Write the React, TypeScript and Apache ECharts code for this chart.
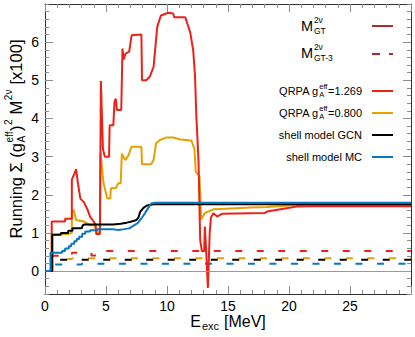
import React, { useEffect, useRef } from 'react';
import * as echarts from 'echarts';

const FONT = '"Liberation Sans", Arial, Helvetica, sans-serif';

// ---- data (running sums, x100) ----
const qrpa1269E = [0, 0.55, 0.55, 1.65, 1.65, 2.2, 2.2, 2.4, 2.55, 2.7, 2.9, 3.2, 3.5, 3.7, 4.0, 4.15, 4.2, 4.5, 4.58, 4.75, 4.9, 5.25, 5.3, 5.6, 5.7, 5.8, 5.9, 6.25, 6.35, 6.45, 6.6, 6.9, 7.1, 7.9, 7.95, 8.3, 8.6, 8.9, 9.2, 9.5, 10.1, 10.5, 10.6, 11.5, 11.9, 12.15, 12.3, 12.4, 12.58, 12.72, 12.86, 13.05, 13.1, 13.2, 13.35, 13.5, 13.6, 13.8, 14.1, 14.5, 18.0, 18.2, 19.8, 20.6, 22, 30];
const qrpa1269V = [0, 0, 1.3, 1.3, 1.37, 1.37, 2.4, 2.55, 2.67, 2.3, 1.9, 1.8, 1.6, 1.42, 1.3, 1.2, 0.97, 0.97, 4.98, 3.2, 3.0, 3.0, 3.82, 3.82, 4.45, 4.52, 4.22, 4.22, 5.83, 5.55, 5.7, 5.75, 6.18, 6.2, 5.0, 5.0, 5.1, 5.35, 6.4, 6.7, 6.77, 6.75, 6.65, 6.65, 6.26, 5.78, 5.09, 4.1, 2.91, 0.82, 0.52, 0.52, 1.17, 0.6, -0.44, 1.0, 1.4, 1.52, 1.43, 1.5, 1.52, 1.56, 1.65, 1.69, 1.7, 1.7];

const qrpa0800E = [0, 0.55, 0.55, 1.9, 2.2, 2.2, 2.35, 2.55, 3.2, 3.7, 4.1, 4.2, 4.5, 4.55, 4.8, 5.1, 5.35, 5.4, 5.8, 6.0, 6.2, 6.3, 6.5, 6.6, 6.85, 7.1, 7.9, 7.95, 8.7, 8.9, 9.1, 9.4, 9.9, 10.5, 11.1, 12.0, 12.25, 12.36, 12.66, 12.8, 13.1, 13.8, 14.4, 16.8, 18.2, 20.1, 30];
const qrpa0800V = [0, 0, 0.95, 0.97, 1.0, 1.56, 1.6, 1.34, 1.3, 1.2, 1.21, 1.02, 1.02, 3.1, 2.3, 1.9, 1.9, 2.17, 2.17, 2.3, 2.3, 3.08, 2.95, 2.91, 3.04, 3.26, 3.26, 2.8, 2.8, 2.91, 3.35, 3.43, 3.5, 3.5, 3.45, 3.42, 3.2, 2.6, 2.5, 1.35, 1.52, 1.62, 1.63, 1.67, 1.68, 1.72, 1.72];

const gcnE = [0, 0.6, 0.6, 1.3, 1.3, 1.9, 1.9, 2.25, 2.25, 3.0, 3.1, 3.2, 5.6, 6.2, 6.7, 7.1, 7.5, 7.65, 7.8, 8.05, 8.35, 8.9, 30];
const gcnV = [0, 0, 0.95, 0.95, 1.0, 1.0, 1.06, 1.06, 1.12, 1.12, 1.2, 1.22, 1.22, 1.24, 1.27, 1.3, 1.34, 1.4, 1.55, 1.65, 1.72, 1.75, 1.75];

const mcE = [0, 0.45, 0.45, 1.4, 1.4, 1.65, 1.65, 1.95, 1.95, 2.15, 2.15, 2.4, 2.4, 2.6, 2.6, 2.8, 2.8, 3.05, 3.05, 3.3, 3.3, 3.7, 3.7, 4.3, 4.3, 5.5, 6.0, 6.5, 6.9, 7.1, 7.3, 7.6, 7.9, 8.2, 8.45, 8.7, 9.0, 30];
const mcV = [0, 0, 0.48, 0.48, 0.53, 0.53, 0.59, 0.59, 0.65, 0.65, 0.72, 0.72, 0.78, 0.78, 0.84, 0.84, 0.9, 0.9, 0.98, 0.98, 1.04, 1.04, 1.07, 1.07, 1.1, 1.1, 1.08, 1.1, 1.12, 1.16, 1.2, 1.26, 1.38, 1.52, 1.65, 1.77, 1.79, 1.79];

// M_GT-3 running sums (dashed)
const qrpa1269DashE = [0.55, 2.2, 2.2, 3.8, 3.8, 4.55, 4.58, 30];
const qrpa1269DashV = [0.4, 0.4, 0.48, 0.48, 0.41, 0.41, 0.53, 0.53];
const qrpa0800DashE = [0.55, 2.2, 2.2, 30];
const qrpa0800DashV = [0.32, 0.32, 0.34, 0.34];
const gcnDashE = [0.55, 30];
const gcnDashV = [0.3, 0.3];
const mcDashE = [0.55, 3.0, 3.0, 30];
const mcDashV = [0.17, 0.17, 0.19, 0.19];

const xTickLabels = [0, 5, 10, 15, 20, 25];
const yTickValues = [0, 1, 2, 3, 4, 5, 6];

const C_RED = '#ec2218';
const C_ORANGE = '#e6a000';
const C_BLACK = '#000000';
const C_BLUE = '#0a76be';
const C_DARKRED = '#b3282a';

let measureCtx: CanvasRenderingContext2D | null = null;
function textWidth(t: string, fs: number): number {
  if (!measureCtx) measureCtx = document.createElement('canvas').getContext('2d');
  if (!measureCtx) return t.length * fs * 0.55;
  measureCtx.font = `${fs}px ${FONT}`;
  return measureCtx.measureText(t).width;
}

type Piece = { t?: string; sup?: string; sub?: string; fs: number; dy?: number; supDy?: number; subDy?: number; gap?: number };

function txt(t: string, x: number, y: number, fs: number, color: string) {
  return {
    type: 'text',
    x,
    y,
    silent: true,
    style: { text: t, fill: color, font: `${fs}px ${FONT}`, textAlign: 'left', textVerticalAlign: 'middle' },
  };
}

function buildPieces(pieces: Piece[], color: string) {
  let x = 0;
  const children: any[] = [];
  for (const p of pieces) {
    x += p.gap || 0;
    if (p.sup !== undefined || p.sub !== undefined) {
      const sp = p.sup || '';
      const sb = p.sub || '';
      if (sp) children.push(txt(sp, x, p.supDy || 0, p.fs, color));
      if (sb) children.push(txt(sb, x, p.subDy || 0, p.fs, color));
      x += Math.max(textWidth(sp, p.fs), textWidth(sb, p.fs));
    } else {
      const t = p.t || '';
      children.push(txt(t, x, p.dy || 0, p.fs, color));
      x += textWidth(t, p.fs);
    }
  }
  return { children, width: x };
}

function pairs(E: number[], V: number[]) {
  return E.map((e, i) => [e, V[i]]);
}

export default function App() {
  const ref = useRef<HTMLDivElement>(null);
  useEffect(() => {
    if (!ref.current) return;
    const chart = echarts.init(ref.current, undefined, { renderer: 'svg' });

    const grid = { left: 45, right: 4, top: 4, bottom: 43 };
    const tickColor = '#8c8c8c';
    const axisColor = '#333333';

    const xBase = (pos: 'bottom' | 'top', labels: boolean) => ({
      type: 'value',
      position: pos,
      min: 0,
      max: 30,
      interval: 5,
      axisLine: { show: true, onZero: false, lineStyle: { color: axisColor, width: 1 } },
      axisTick: { show: true, inside: true, length: 8, lineStyle: { color: tickColor, width: 1 } },
      minorTick: { show: true, splitNumber: 5, length: 4, lineStyle: { color: tickColor, width: 1 } },
      splitLine: { show: false },
      axisLabel: labels
        ? {
            show: true,
            customValues: xTickLabels,
            fontSize: 14,
            fontFamily: FONT,
            color: '#000',
            margin: 5,
            formatter: (v: number) => (v < 29 ? String(v) : ''),
          }
        : { show: false },
    });

    const yMajor = (pos: 'left' | 'right', labels: boolean) => ({
      type: 'value',
      position: pos,
      min: -0.6,
      max: 7,
      interval: 0.2,
      axisLine: { show: true, onZero: false, lineStyle: { color: axisColor, width: 1 } },
      axisTick: { show: true, inside: true, length: 8, customValues: yTickValues, lineStyle: { color: tickColor, width: 1 } },
      splitLine: { show: false },
      axisLabel: labels
        ? {
            show: true,
            customValues: yTickValues,
            fontSize: 14,
            fontFamily: FONT,
            color: '#000',
            margin: 6,
            formatter: (v: number) => String(Math.round(v)),
          }
        : { show: false },
    });
    const yMinor = (pos: 'left' | 'right') => ({
      type: 'value',
      position: pos,
      min: -0.6,
      max: 7,
      interval: 0.2,
      axisLine: { show: false, onZero: false },
      axisTick: { show: true, inside: true, length: 4, lineStyle: { color: tickColor, width: 1 } },
      splitLine: { show: false },
      axisLabel: { show: false },
    });

    const solid = (name: string, E: number[], V: number[], color: string, z: number) => ({
      type: 'line',
      name,
      data: pairs(E, V),
      symbol: 'none',
      showSymbol: false,
      z,
      lineStyle: { color, width: 2 },
      silent: true,
    });
    const dashed = (name: string, E: number[], V: number[], color: string, offset: number) => ({
      type: 'line',
      name,
      data: pairs(E, V),
      symbol: 'none',
      showSymbol: false,
      z: 2,
      lineStyle: { color, width: 2, type: [7, 14.5], dashOffset: offset },
      silent: true,
    });

    // --- text graphics ---
    const F = 16.5;
    const yTitle = buildPieces(
      [
        { t: 'Running Σ (g', fs: F },
        { sup: 'eff', sub: 'A', fs: 10, supDy: -0.42 * F, subDy: 0.36 * F, gap: 0.5 },
        { t: ')', fs: F, gap: 0.5 },
        { t: '2', fs: 10, dy: -0.44 * F, gap: 0.5 },
        { t: ' M', fs: F, gap: 0.5 },
        { t: '2ν', fs: 10, dy: -0.44 * F, gap: 0.5 },
        { t: ' [x100]', fs: F, gap: 0.5 },
      ],
      '#000'
    );
    const yCenter = 139;
    const XF = 16;
    const xTitle = buildPieces(
      [
        { t: 'E', fs: XF },
        { t: 'exc', fs: 11, dy: 0.34 * XF, gap: 1 },
        { t: ' [MeV]', fs: XF, gap: 0.5 },
      ],
      '#000'
    );

    const LF = 11;
    const LS = 7.5;
    const leg1 = buildPieces([{ t: 'M', fs: 14.5 }, { sup: '2ν', sub: 'GT', fs: 8.5, supDy: -6.5, subDy: 5, gap: 0.8 }], '#000');
    const leg2 = buildPieces([{ t: 'M', fs: 14.5 }, { sup: '2ν', sub: 'GT-3', fs: 8.5, supDy: -6.5, subDy: 5, gap: 0.8 }], '#000');
    const legQ = (val: string) =>
      buildPieces(
        [
          { t: 'QRPA g', fs: LF },
          { sup: 'eff', sub: 'A', fs: LS, supDy: -4.6, subDy: 3.6, gap: 0.6 },
          { t: '=' + val, fs: LF, gap: 0.6 },
        ],
        '#000'
      );
    const leg3 = legQ('1.269');
    const leg4 = legQ('0.800');
    const leg5 = buildPieces([{ t: 'shell model GCN', fs: LF }], '#000');
    const leg6 = buildPieces([{ t: 'shell model MC', fs: LF }], '#000');
    const textRight = 362;
    const lx1 = 372;
    const lx2 = 393;
    const legLine = (y: number, color: string, dash?: number[]) => ({
      type: 'line',
      silent: true,
      shape: { x1: lx1, y1: y, x2: lx2, y2: y },
      style: { stroke: color, lineWidth: 2, lineDash: dash },
    });

    const graphics: any[] = [
      { type: 'group', x: 16, y: yCenter + yTitle.width / 2, rotation: Math.PI / 2, children: yTitle.children },
      { type: 'group', x: 228 - xTitle.width / 2, y: 321, children: xTitle.children },
      { type: 'group', x: 301, y: 26, children: leg1.children },
      { type: 'group', x: 301, y: 53, children: leg2.children },
      { type: 'group', x: textRight - leg3.width, y: 91, children: leg3.children },
      { type: 'group', x: textRight - leg4.width, y: 113, children: leg4.children },
      { type: 'group', x: textRight - leg5.width, y: 135, children: leg5.children },
      { type: 'group', x: textRight - leg6.width, y: 157, children: leg6.children },
      legLine(26, C_DARKRED),
      legLine(54, C_DARKRED, [8, 9]),
      legLine(91, C_RED),
      legLine(113, C_ORANGE),
      legLine(135, C_BLACK),
      legLine(157, C_BLUE),
    ];

    chart.setOption({
      animation: false,
      backgroundColor: '#fff',
      grid: { ...grid, containLabel: false, outerBoundsMode: 'none' },
      xAxis: [xBase('bottom', true), xBase('top', false)],
      yAxis: [yMajor('left', true), yMinor('left'), yMajor('right', false), yMinor('right')],
      series: [
        {
          type: 'line',
          name: 'zero',
          data: [],
          markLine: {
            silent: true,
            symbol: 'none',
            label: { show: false },
            lineStyle: { color: '#9a9a9a', width: 1, type: 'solid' },
            data: [{ yAxis: 0 }],
          },
        },
        dashed('QRPA 1.269 GT-3', qrpa1269DashE, qrpa1269DashV, C_RED, 0),
        dashed('QRPA 0.800 GT-3', qrpa0800DashE, qrpa0800DashV, C_ORANGE, 6),
        dashed('GCN GT-3', gcnDashE, gcnDashV, C_BLACK, 13),
        dashed('MC GT-3', mcDashE, mcDashV, C_BLUE, 18),
        solid('QRPA gA=0.800', qrpa0800E, qrpa0800V, C_ORANGE, 3),
        solid('QRPA gA=1.269', qrpa1269E, qrpa1269V, C_RED, 4),
        solid('shell model GCN', gcnE, gcnV, C_BLACK, 5),
        solid('shell model MC', mcE, mcV, C_BLUE, 6),
      ],
      graphic: graphics,
    });

    return () => chart.dispose();
  }, []);

  return (
    <div
      ref={ref}
      style={{ position: 'fixed', left: 0, top: 0, width: 415, height: 337, background: '#fff' }}
    />
  );
}
